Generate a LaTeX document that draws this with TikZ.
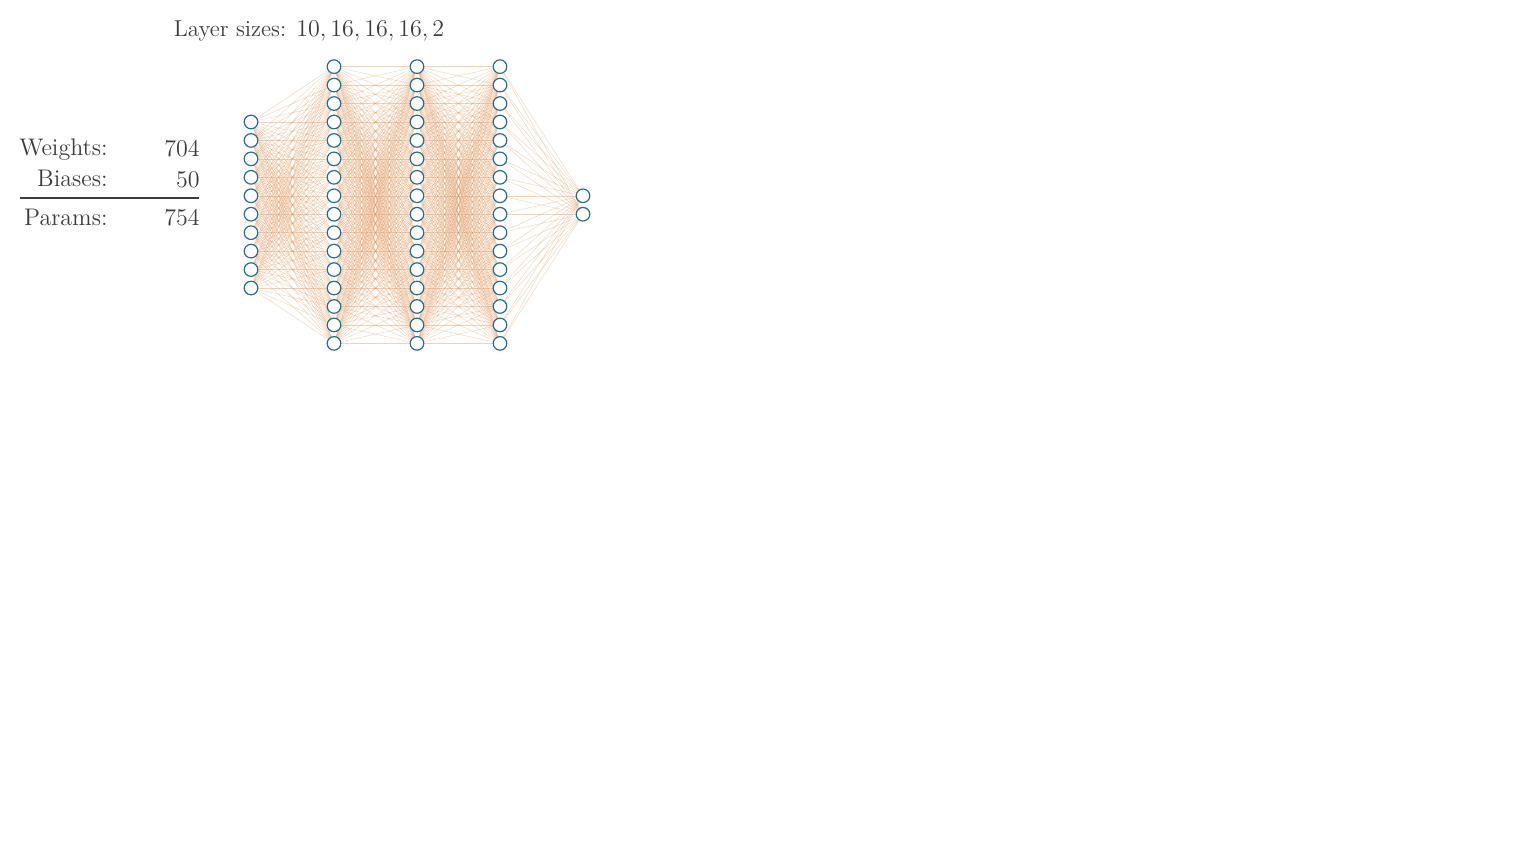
\documentclass[tikz,border=0pt]{standalone}
\usepackage{tikz}
\definecolor{edgec}{RGB}{222,145,85}
\definecolor{nodec}{RGB}{40,108,140}
\definecolor{textc}{RGB}{60,60,60}
\tikzset{
  neuron/.style={circle,draw=nodec,fill=white,line width=0.6pt,minimum size=6.8pt,inner sep=0pt},
  synapse/.style={draw=edgec,line width=0.2pt,opacity=0.42},
  lbl/.style={text=textc,inner sep=0pt,font=\fontsize{11.5}{14}\selectfont},
  stat/.style={text=textc,inner sep=0pt,font=\fontsize{12}{14}\selectfont},
}
\begin{document}
\begin{tikzpicture}[x=0.5pt,y=-0.5pt]
\useasboundingbox (0,0) rectangle (1536,864);
% layers
\def\spc{18.45}
\foreach \l/\n/\x in {1/10/251,2/16/334,3/16/417,4/16/500,5/2/583}{
  \foreach \i in {1,...,\n}{
    \pgfmathsetmacro{\yy}{205+(\i-(\n+1)/2)*\spc}
    \coordinate (c-\l-\i) at (\x,\yy);
  }
}
% edges
\foreach \a/\na/\b/\nb in {1/10/2/16,2/16/3/16,3/16/4/16,4/16/5/2}{
  \foreach \i in {1,...,\na}{
    \foreach \j in {1,...,\nb}{
      \draw[synapse] (c-\a-\i) -- (c-\b-\j);
    }
  }
}
% nodes
\foreach \l/\n in {1/10,2/16,3/16,4/16,5/2}{
  \foreach \i in {1,...,\n}{
    \node[neuron] (n-\l-\i) at (c-\l-\i) {};
  }
}
% texts
\node[lbl,anchor=base] (title) at (309,36) {Layer sizes: $10, 16, 16, 16, 2$};
\node[stat,anchor=base east] (wl) at (108,155) {Weights:};
\node[stat,anchor=base east] (wv) at (200,156) {$704$};
\node[stat,anchor=base east] (bl) at (108,186) {Biases:};
\node[stat,anchor=base east] (bv) at (200,187) {$50$};
\coordinate (r1) at (20,198);
\coordinate (r2) at (199,198);
\draw[textc,line width=0.8pt] (r1) -- (r2);
\node[stat,anchor=base east] (pl) at (108,225) {Params:};
\node[stat,anchor=base east] (pv) at (200,225) {$754$};
\end{tikzpicture}
\end{document}
